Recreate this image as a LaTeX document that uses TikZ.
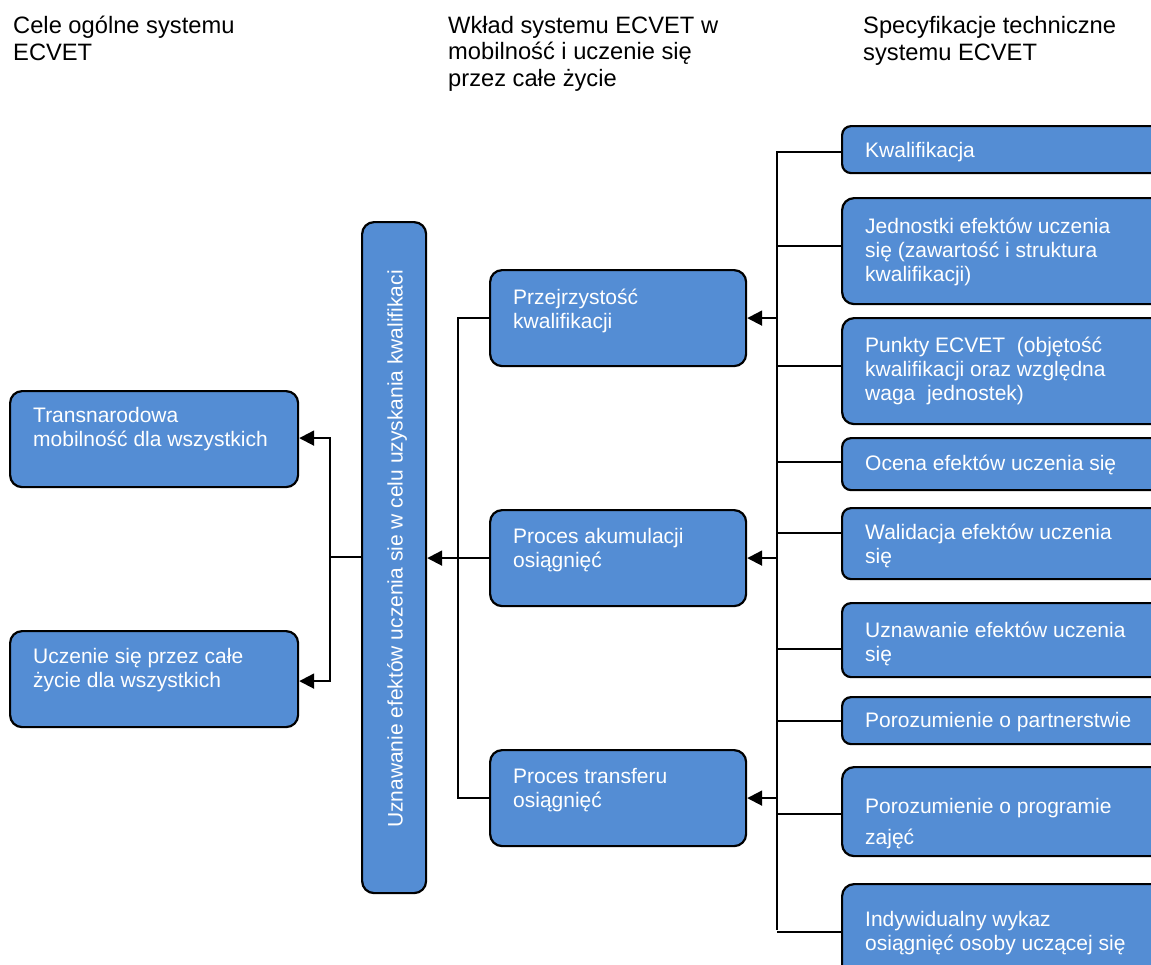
\documentclass[tikz,border=0pt]{standalone}
\usepackage{fontspec}
\setmainfont{Liberation Sans}
\usetikzlibrary{arrows.meta}

\begin{document}
\begin{tikzpicture}[x=1pt,y=-1pt]
\definecolor{boxblue}{RGB}{84,141,212}
\tikzstyle{ecbox} = [draw=black, line width=2.2pt, fill=boxblue, rounded corners=12pt, anchor=north west, inner sep=0pt]
\tikzstyle{smallbox} = [rounded corners=9pt]
\tikzstyle{txt} = [text=white, font=\fontsize{21}{24}\selectfont, align=left, anchor=west, inner sep=0pt]
\tikzstyle{head} = [font=\fontsize{23.7}{26.5}\selectfont, align=left, anchor=base west, inner sep=0pt]
\tikzstyle{conn} = [line width=2pt]
\tikzstyle{arr} = [line width=2pt, -{Triangle[length=15pt,width=15pt]}]

\useasboundingbox (0,0) rectangle (1151,964);

% column headers (anchored at the baseline of the last line)
\node[head] (hCele) at (13,60) {Cele ogólne systemu\\ECVET};
\node[head] (hWklad) at (448,86) {Wkład systemu ECVET w\\mobilność i uczenie się\\przez całe życie};
\node[head] (hSpec) at (863,60) {Specyfikacje techniczne\\systemu ECVET};

% left boxes
\node[ecbox, minimum width=288, minimum height=96] (mob) at (9,390) {};
\node[ecbox, minimum width=288, minimum height=96] (ucz) at (9,630) {};
\node[txt] (mobT) at ([xshift=24pt,yshift=10pt]mob.west) {Transnarodowa\\mobilność dla wszystkich};
\node[txt] (uczT) at ([xshift=24pt,yshift=9pt]ucz.west) {Uczenie się przez całe\\życie dla wszystkich};

% vertical bar
\node[ecbox, minimum width=64, minimum height=671] (bar) at (361,221) {};
\node[txt, anchor=center, rotate=90] (barT) at (397,549) {Uznawanie efektów uczenia sie w celu uzyskania kwalifikaci};

% middle boxes
\node[ecbox, minimum width=256, minimum height=96] (prz) at (489,269) {};
\node[ecbox, minimum width=256, minimum height=96] (aku) at (489,509) {};
\node[ecbox, minimum width=256, minimum height=96] (tra) at (489,749) {};
\node[txt] (przT) at ([xshift=24pt,yshift=7pt]prz.west) {Przejrzystość\\kwalifikacji};
\node[txt] (akuT) at ([xshift=24pt,yshift=8pt]aku.west) {Proces akumulacji\\osiągnięć};
\node[txt] (traT) at ([xshift=24pt,yshift=8pt]tra.west) {Proces transferu\\osiągnięć};

% right boxes
\node[ecbox, smallbox, minimum width=330, minimum height=47] (kw) at (841,125) {};
\node[ecbox, minimum width=330, minimum height=106] (jed) at (841,197) {};
\node[ecbox, minimum width=330, minimum height=106] (pkt) at (841,317) {};
\node[ecbox, smallbox, minimum width=330, minimum height=52] (oce) at (841,437) {};
\node[ecbox, smallbox, minimum width=330, minimum height=71] (wal) at (841,507) {};
\node[ecbox, smallbox, minimum width=330, minimum height=74] (uzn) at (841,602) {};
\node[ecbox, smallbox, minimum width=330, minimum height=47] (por) at (841,696) {};
\node[ecbox, minimum width=330, minimum height=89] (prog) at (841,766) {};
\node[ecbox, minimum width=330, minimum height=97] (ind) at (841,883) {};

\node[txt] (kwT) at ([xshift=24pt,yshift=-2pt]kw.west) {Kwalifikacja};
\node[txt] (jedT) at ([xshift=24pt,yshift=-1pt]jed.west) {Jednostki efektów uczenia\\się (zawartość i struktura\\kwalifikacji)};
\node[txt] (pktT) at ([xshift=24pt]pkt.west) {Punkty ECVET\ \ (objętość\\kwalifikacji oraz względna\\waga\ \ jednostek)};
\node[txt] (oceT) at ([xshift=24pt,yshift=-1pt]oce.west) {Ocena efektów uczenia się};
\node[txt] (walT) at ([xshift=24pt,yshift=-2pt]wal.west) {Walidacja efektów uczenia\\się};
\node[txt] (uznT) at ([xshift=24pt,yshift=-4pt]uzn.west) {Uznawanie efektów uczenia\\się};
\node[txt] (porT) at ([xshift=24pt,yshift=-1pt]por.west) {Porozumienie o partnerstwie};
\node[txt] (progT) at ([xshift=24pt,yshift=-12pt]prog.west) {Porozumienie o programie\\[7pt]zajęć};
\node[txt] (indT) at ([xshift=24pt]ind.west) {Indywidualny wykaz\\osiągnięć osoby uczącej się};

% right bus
\coordinate (rbTop) at (777,151);
\coordinate (rbBot) at (777,930);
\draw[conn] (rbTop) -- (rbBot);
\draw[conn] ([yshift=-2pt]kw.west) -- ([yshift=-2pt]kw.west -| rbTop);
\draw[conn] ([yshift=5pt]jed.west) -- ([yshift=5pt]jed.west -| rbTop);
\draw[conn] ([yshift=5pt]pkt.west) -- ([yshift=5pt]pkt.west -| rbTop);
\draw[conn] ([yshift=2pt]oce.west) -- ([yshift=2pt]oce.west -| rbTop);
\draw[conn] ([yshift=11pt]wal.west) -- ([yshift=11pt]wal.west -| rbTop);
\draw[conn] ([yshift=-9pt]uzn.west) -- ([yshift=-9pt]uzn.west -| rbTop);
\draw[conn] (por.west) -- (por.west -| rbTop);
\draw[conn] ([yshift=-2pt]prog.west) -- ([yshift=-2pt]prog.west -| rbTop);
\draw[conn] ([yshift=1pt]ind.west) -- ([yshift=1pt]ind.west -| rbTop);

\draw[arr] (prz.east -| rbTop) -- (prz.east);
\draw[arr] (aku.east -| rbTop) -- (aku.east);
\draw[arr] (tra.east -| rbTop) -- (tra.east);

% middle bus
\draw[conn] (prz.west) -- ++(-31,0) |- (tra.west);
\draw[arr] (aku.west) -- (bar.east |- aku.west);

% left bus
\coordinate (lb) at (330,557);
\draw[conn] (bar.west |- lb) -- (lb);
\draw[arr] (lb) |- ([yshift=1pt]mob.east);
\draw[arr] (lb) |- ([yshift=-2pt]ucz.east);

\end{tikzpicture}
\end{document}
